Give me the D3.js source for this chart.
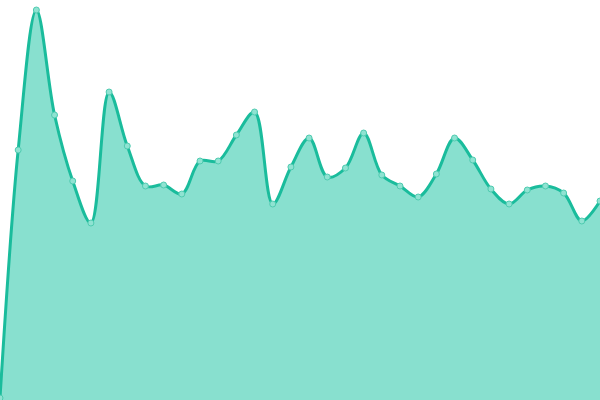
<!DOCTYPE html>
<html>
<head>
<meta charset="utf-8">
<script src="https://cdn.jsdelivr.net/npm/d3@7"></script>
<style>
  html, body { margin: 0; padding: 0; background: #fff; }
  svg { display: block; }
</style>
</head>
<body>
<svg id="chart" width="600" height="400"></svg>
<script>
  const W = 600;
  const H = 400;

  // one value per slot
  const slots = d3.range(34);
  const values = [
    0, 248, 388, 283, 217, 175, 306, 252, 212, 213,
    204, 237, 237, 263, 286, 194, 231, 260, 221, 230,
    265, 223, 212, 201, 224, 260, 238, 209, 194, 208,
    212, 205, 177, 197
  ];

  const lineColor = "#1abc9c";
  const fillColor = "#88e0cf";

  const svg = d3.select("#chart");

  const x = d3.scaleLinear().domain([0, slots.length - 1]).range([0, W]);
  const y = d3.scaleLinear().domain([0, 398]).range([398, 0]);

  const data = slots.map((s, i) => ({ s, v: values[i] }));

  const curve = d3.curveCatmullRom.alpha(0.5);

  const area = d3.area()
    .x((d) => x(d.s))
    .y0(H)
    .y1((d) => y(d.v))
    .curve(curve);

  const line = d3.line()
    .x((d) => x(d.s))
    .y((d) => y(d.v))
    .curve(curve);

  svg.append("path")
    .datum(data)
    .attr("d", area)
    .attr("fill", fillColor);

  svg.append("path")
    .datum(data)
    .attr("d", line)
    .attr("fill", "none")
    .attr("stroke", lineColor)
    .attr("stroke-width", 3);

  svg.append("g")
    .selectAll("circle")
    .data(data)
    .join("circle")
    .attr("cx", (d) => x(d.s))
    .attr("cy", (d) => y(d.v))
    .attr("r", 3)
    .attr("fill", "#8fe3d2")
    .attr("stroke", "#4fcbb0")
    .attr("stroke-width", 1);
</script>
</body>
</html>
